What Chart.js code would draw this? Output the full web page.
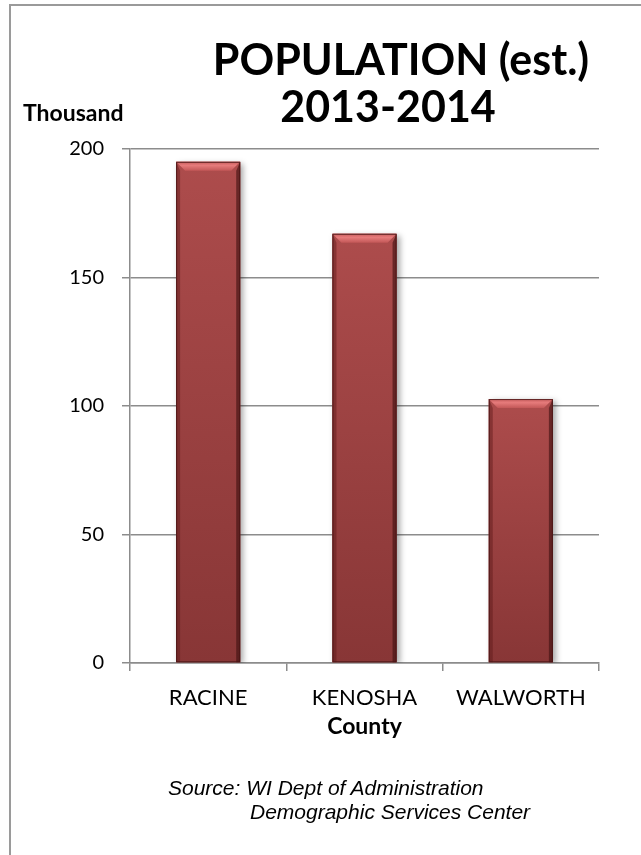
<!DOCTYPE html>
<html>
<head>
<meta charset="utf-8">
<script src="https://cdn.jsdelivr.net/npm/chart.js@4/dist/chart.umd.min.js"></script>
<style>
  html, body { margin: 0; padding: 0; background: #fff; }
  #wrap { position: relative; width: 641px; height: 855px; overflow: hidden; }
  #frame-top { position: absolute; left: 9px; top: 4px; width: 640px; height: 2px; background: #9a9a9a; }
  #frame-left { position: absolute; left: 9px; top: 4px; width: 2px; height: 851px; background: #9a9a9a; }
  canvas { position: absolute; left: 0; top: 0; }
  .txt { position: absolute; white-space: nowrap; color: #000; }
  .title { font-family: Lato, sans-serif; font-weight: bold; font-size: 43px; transform: translateX(-50%); }
  #unit { left: 23px; top: 98px; font-family: Lato, sans-serif; font-weight: bold; font-size: 23px; }
  .src { font-family: "Liberation Sans", Arial, sans-serif; font-style: italic; font-size: 21px; }
</style>
</head>
<body>
<div id="wrap">
  <div id="frame-top"></div>
  <div id="frame-left"></div>
  <canvas id="popChart" width="641" height="855"></canvas>
  <div class="txt title" style="left:401px; top:33px;">POPULATION (est.)</div>
  <div class="txt title" style="left:388px; top:80px;">2013-2014</div>
  <div id="unit" class="txt">Thousand</div>
  <div class="txt src" style="left:168px; top:776px;">Source: WI Dept of Administration</div>
  <div class="txt src" style="left:250px; top:800px;">Demographic Services Center</div>
</div>
<script>
// population in thousands, 2013-2014 estimates
const counties = ["RACINE", "KENOSHA", "WALWORTH"];
const population = [195, 167, 102.7];
const yTicks = [0, 50, 100, 150, 200];

const axisGray = "#8c8c8c";

// bevelled look for the bars: shadow under the bar, shaded sides, light top edge
const bevelBars = {
  id: "bevelBars",
  beforeDatasetDraw(chart) {
    const ctx = chart.ctx;
    ctx.save();
    ctx.shadowColor = "rgba(0,0,0,0.35)";
    ctx.shadowBlur = 6;
    ctx.shadowOffsetX = 3;
    ctx.shadowOffsetY = 2;
  },
  afterDatasetDraw(chart) {
    const ctx = chart.ctx;
    ctx.restore();
    ctx.save();
    chart.getDatasetMeta(0).data.forEach((bar) => {
      const l = bar.x - bar.width / 2;
      const r = bar.x + bar.width / 2;
      const t = bar.y;
      const b = bar.base;
      const bev = 9;

      // body shading, darker toward the base
      const body = ctx.createLinearGradient(0, t, 0, b);
      body.addColorStop(0, "#ad4c4c");
      body.addColorStop(1, "#883636");
      ctx.fillStyle = body;
      ctx.fillRect(l, t, r - l, b - t);

      // left edge
      ctx.fillStyle = "rgba(90,25,25,0.45)";
      ctx.beginPath();
      ctx.moveTo(l, t);
      ctx.lineTo(l + 4, t + bev);
      ctx.lineTo(l + 4, b);
      ctx.lineTo(l, b);
      ctx.closePath();
      ctx.fill();

      // right edge
      ctx.fillStyle = "rgba(60,15,15,0.6)";
      ctx.beginPath();
      ctx.moveTo(r, t);
      ctx.lineTo(r - 4, t + bev);
      ctx.lineTo(r - 4, b);
      ctx.lineTo(r, b);
      ctx.closePath();
      ctx.fill();

      // top bevel
      const top = ctx.createLinearGradient(0, t, 0, t + bev);
      top.addColorStop(0, "#c85e5e");
      top.addColorStop(0.4, "#e67b7b");
      top.addColorStop(1, "#c25757");
      ctx.fillStyle = top;
      ctx.beginPath();
      ctx.moveTo(l, t);
      ctx.lineTo(r, t);
      ctx.lineTo(r - bev, t + bev);
      ctx.lineTo(l + bev, t + bev);
      ctx.closePath();
      ctx.fill();

      ctx.strokeStyle = "rgba(70,20,20,0.8)";
      ctx.lineWidth = 1;
      ctx.strokeRect(l + 0.5, t + 0.5, r - l - 1, b - t - 1);
    });
    ctx.restore();
  }
};

new Chart(document.getElementById("popChart"), {
  type: "bar",
  data: {
    labels: counties,
    datasets: [{
      data: population,
      backgroundColor: "#a84848",
      borderWidth: 0,
      categoryPercentage: 0.82,
      barPercentage: 0.5
    }]
  },
  plugins: [bevelBars],
  options: {
    responsive: false,
    animation: false,
    events: [],
    layout: { padding: { top: 149, right: 42, bottom: 115, left: 0 } },
    plugins: {
      legend: { display: false },
      tooltip: { enabled: false },
      title: { display: false }
    },
    scales: {
      x: {
        grid: {
          offset: true,
          drawOnChartArea: false,
          tickLength: 8,
          color: axisGray,
          lineWidth: 1.5
        },
        border: { color: axisGray, width: 1.5 },
        ticks: {
          color: "#000",
          padding: 14,
          font: { family: "Lato", size: 22 }
        },
        title: {
          display: true,
          text: "County",
          color: "#000",
          padding: { top: 0, bottom: 0 },
          font: { family: "Lato", size: 23, weight: "bold" }
        },
        afterFit(scale) { scale.height = 77; }
      },
      y: {
        min: 0,
        max: 200,
        afterBuildTicks(scale) { scale.ticks = yTicks.map((v) => ({ value: v })); },
        grid: {
          tickLength: 8,
          color: axisGray,
          lineWidth: 1.5
        },
        border: { color: axisGray, width: 1.5 },
        ticks: {
          color: "#000",
          padding: 18,
          font: { family: "Lato", size: 20 }
        },
        afterFit(scale) { scale.width = 130; }
      }
    }
  }
});
</script>
</body>
</html>
